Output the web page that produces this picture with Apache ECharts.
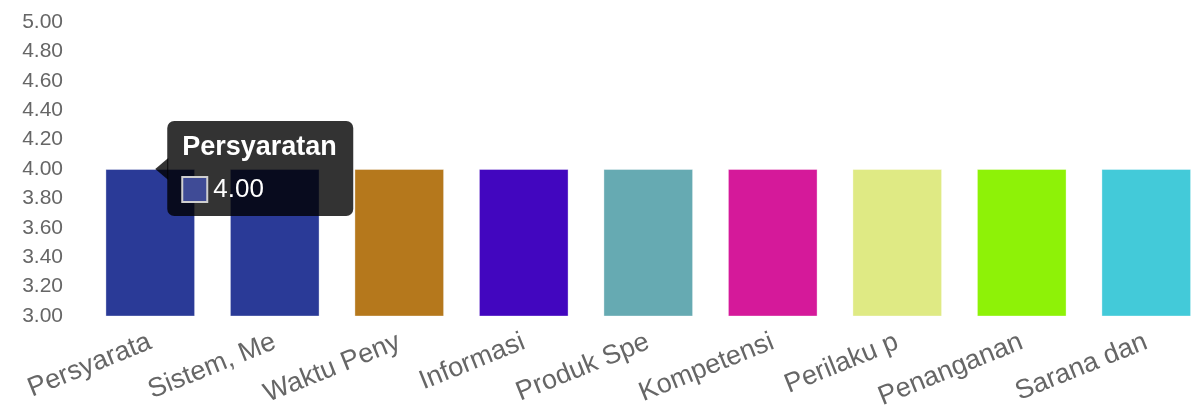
<!DOCTYPE html>
<html>
<head>
<meta charset="utf-8">
<script src="https://cdn.jsdelivr.net/npm/echarts@6/dist/echarts.min.js"></script>
<style>
html,body{margin:0;padding:0;background:#fff;}
#c{width:1195px;height:405px;}
</style>
</head>
<body>
<div id="c"></div>
<script>
const categories = ['Persyarata','Sistem, Me','Waktu Peny','Informasi','Produk Spe','Kompetensi','Perilaku p','Penanganan','Sarana dan'];
const values = [4.00, 4.00, 4.00, 4.00, 4.00, 4.00, 4.00, 4.00, 4.00];
const barColors = ['#2a3a97','#2a3a97','#b5781c','#4206bf','#66aab2','#d5199a','#dfea84','#8ef207','#43cad9'];
const yMin = 3, yMax = 5, yStep = 0.2;
const tooltipTitle = 'Persyaratan';
const tooltipIndex = 0;
const FONT = "'Liberation Sans', Arial, Helvetica, sans-serif";

const chart = echarts.init(document.getElementById('c'));
chart.setOption({
  animation: false,
  grid: { left: 88, right: -13.5, top: 22, bottom: 89, containLabel: false, outerBoundsMode: 'none' },
  xAxis: {
    type: 'category',
    data: categories,
    axisLine: { show: false },
    axisTick: { show: false },
    splitLine: { show: false },
    axisLabel: { rotate: 22, margin: 25, color: '#666', fontSize: 27, fontFamily: FONT, interval: 0 }
  },
  yAxis: {
    type: 'value',
    min: yMin, max: yMax, interval: yStep,
    axisLine: { show: false },
    axisTick: { show: false },
    splitLine: { show: false },
    axisLabel: { margin: 25, color: '#666', fontSize: 21, fontFamily: FONT, formatter: v => v.toFixed(2) }
  },
  series: [{
    type: 'bar',
    barWidth: '72%',
    z: 2,
    data: values.map((v, i) => ({
      value: v,
      itemStyle: { color: barColors[i], borderColor: 'rgba(255,255,255,0.35)', borderWidth: 1 }
    }))
  }]
});

const p = chart.convertToPixel({ xAxisIndex: 0, yAxisIndex: 0 }, [tooltipIndex, values[tooltipIndex]]);
const bx = p[0] + 17, by = p[1] - 48, bw = 186, bh = 95;
chart.setOption({
  graphic: [
    { type: 'polygon', z: 100, zlevel: 1, shape: { points: [[p[0] + 5, p[1]], [bx + 1, p[1] - 11], [bx + 1, p[1] + 11]] }, style: { fill: 'rgba(0,0,0,0.8)' } },
    { type: 'rect', z: 100, zlevel: 1, shape: { x: bx, y: by, width: bw, height: bh, r: 7 }, style: { fill: 'rgba(0,0,0,0.8)' } },
    { type: 'text', z: 101, zlevel: 1, x: bx + 15, y: by + 13, style: { text: tooltipTitle, fill: '#fff', font: 'bold 27px ' + FONT, textVerticalAlign: 'top' } },
    { type: 'rect', z: 101, zlevel: 1, shape: { x: bx + 15, y: by + 56, width: 25, height: 25 }, style: { fill: '#3f4b96', stroke: '#cfcfcf', lineWidth: 2 } },
    { type: 'text', z: 101, zlevel: 1, x: bx + 46, y: by + 69, style: { text: values[tooltipIndex].toFixed(2), fill: '#fff', font: '26px ' + FONT, textVerticalAlign: 'middle' } }
  ]
});
</script>
</body>
</html>
